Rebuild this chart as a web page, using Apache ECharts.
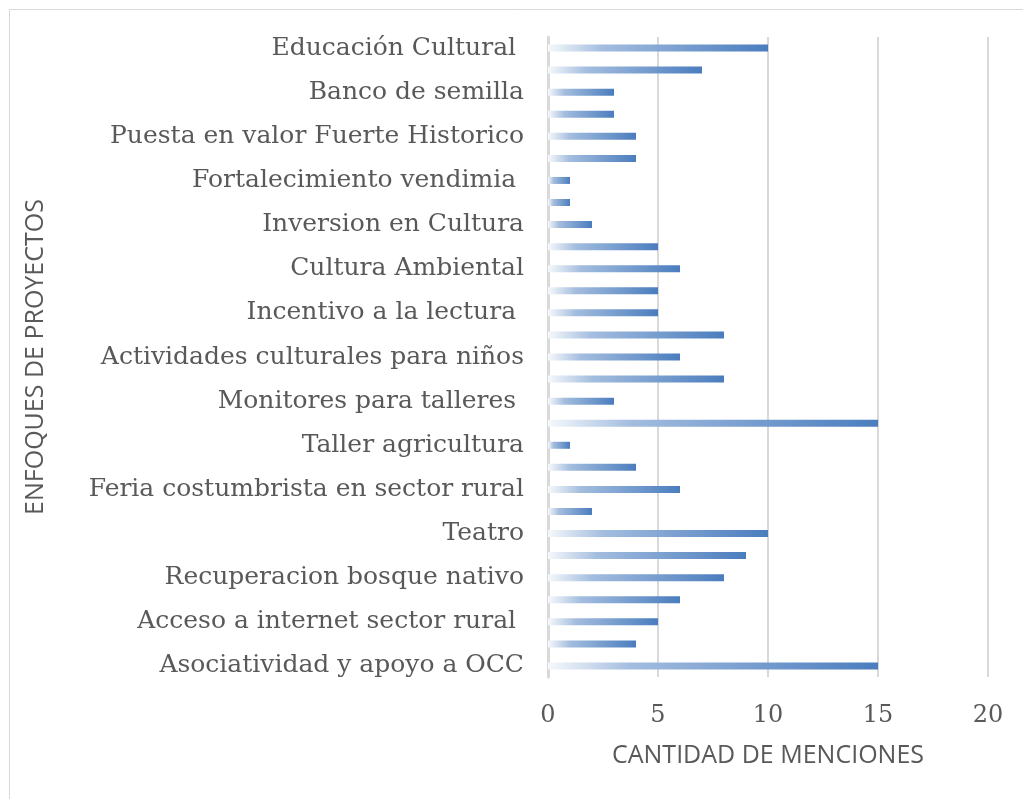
<!DOCTYPE html>
<html>
<head>
<meta charset="utf-8">
<script src="https://cdn.jsdelivr.net/npm/echarts@6/dist/echarts.min.js"></script>
<style>
  html, body { margin: 0; padding: 0; background: #fff; }
  #chart { width: 1023px; height: 799px; }
</style>
</head>
<body>
<div id="chart"></div>
<script>
// categorias de arriba hacia abajo; solo una de cada dos lleva nombre visible
var categorias = [
    'Educación Cultural ', '',
    'Banco de semilla', '',
    'Puesta en valor Fuerte Historico', '',
    'Fortalecimiento vendimia ', '',
    'Inversion en Cultura', '',
    'Cultura Ambiental', '',
    'Incentivo a la lectura ', '',
    'Actividades culturales para niños', '',
    'Monitores para talleres ', '',
    'Taller agricultura', '',
    'Feria costumbrista en sector rural', '',
    'Teatro', '',
    'Recuperacion bosque nativo', '',
    'Acceso a internet sector rural ', '',
    'Asociatividad y apoyo a OCC'
];
var menciones = [10, 7, 3, 3, 4, 4, 1, 1, 2, 5, 6, 5, 5, 8, 6, 8, 3, 15, 1, 4, 6, 2, 10, 9, 8, 6, 5, 4, 15];

var gris = '#595959';
var chart = echarts.init(document.getElementById('chart'));

var option = {
    animation: false,
    // marco del grafico
    graphic: [{
        type: 'rect',
        shape: { x: 9.5, y: 9.5, width: 1040, height: 820 },
        style: { fill: 'none', stroke: '#d9d9d9', lineWidth: 1 },
        silent: true
    }],
    grid: { left: 548, right: 35, top: 37, bottom: 122 },
    xAxis: {
        type: 'value',
        min: 0,
        max: 20,
        interval: 5,
        name: 'CANTIDAD DE MENCIONES',
        nameLocation: 'middle',
        nameGap: 66,
        nameTextStyle: { color: gris, fontFamily: 'Open Sans', fontSize: 25 },
        axisLine: { show: false },
        axisTick: { show: false },
        axisLabel: { color: gris, fontFamily: 'DejaVu Serif', fontSize: 24, margin: 27 },
        splitLine: { lineStyle: { color: '#d9d9d9', width: 2 } }
    },
    yAxis: {
        type: 'category',
        inverse: true,
        data: categorias,
        name: 'ENFOQUES DE PROYECTOS',
        nameLocation: 'middle',
        nameGap: 500,
        nameRotate: 90,
        nameTextStyle: { color: gris, fontFamily: 'Open Sans', fontSize: 25 },
        axisLine: { show: true, lineStyle: { color: '#d9d9d9', width: 3 } },
        axisTick: { show: false },
        axisLabel: { interval: 1, color: gris, fontFamily: 'DejaVu Serif', fontSize: 25, margin: 24 }
    },
    series: [{
        type: 'bar',
        data: menciones,
        barWidth: 7,
        itemStyle: {
            color: new echarts.graphic.LinearGradient(0, 0, 1, 0, [
                { offset: 0, color: '#f6f9fc' },
                { offset: 0.25, color: '#a3bddf' },
                { offset: 1, color: '#4a7dbe' }
            ])
        }
    }]
};

chart.setOption(option);
</script>
</body>
</html>
